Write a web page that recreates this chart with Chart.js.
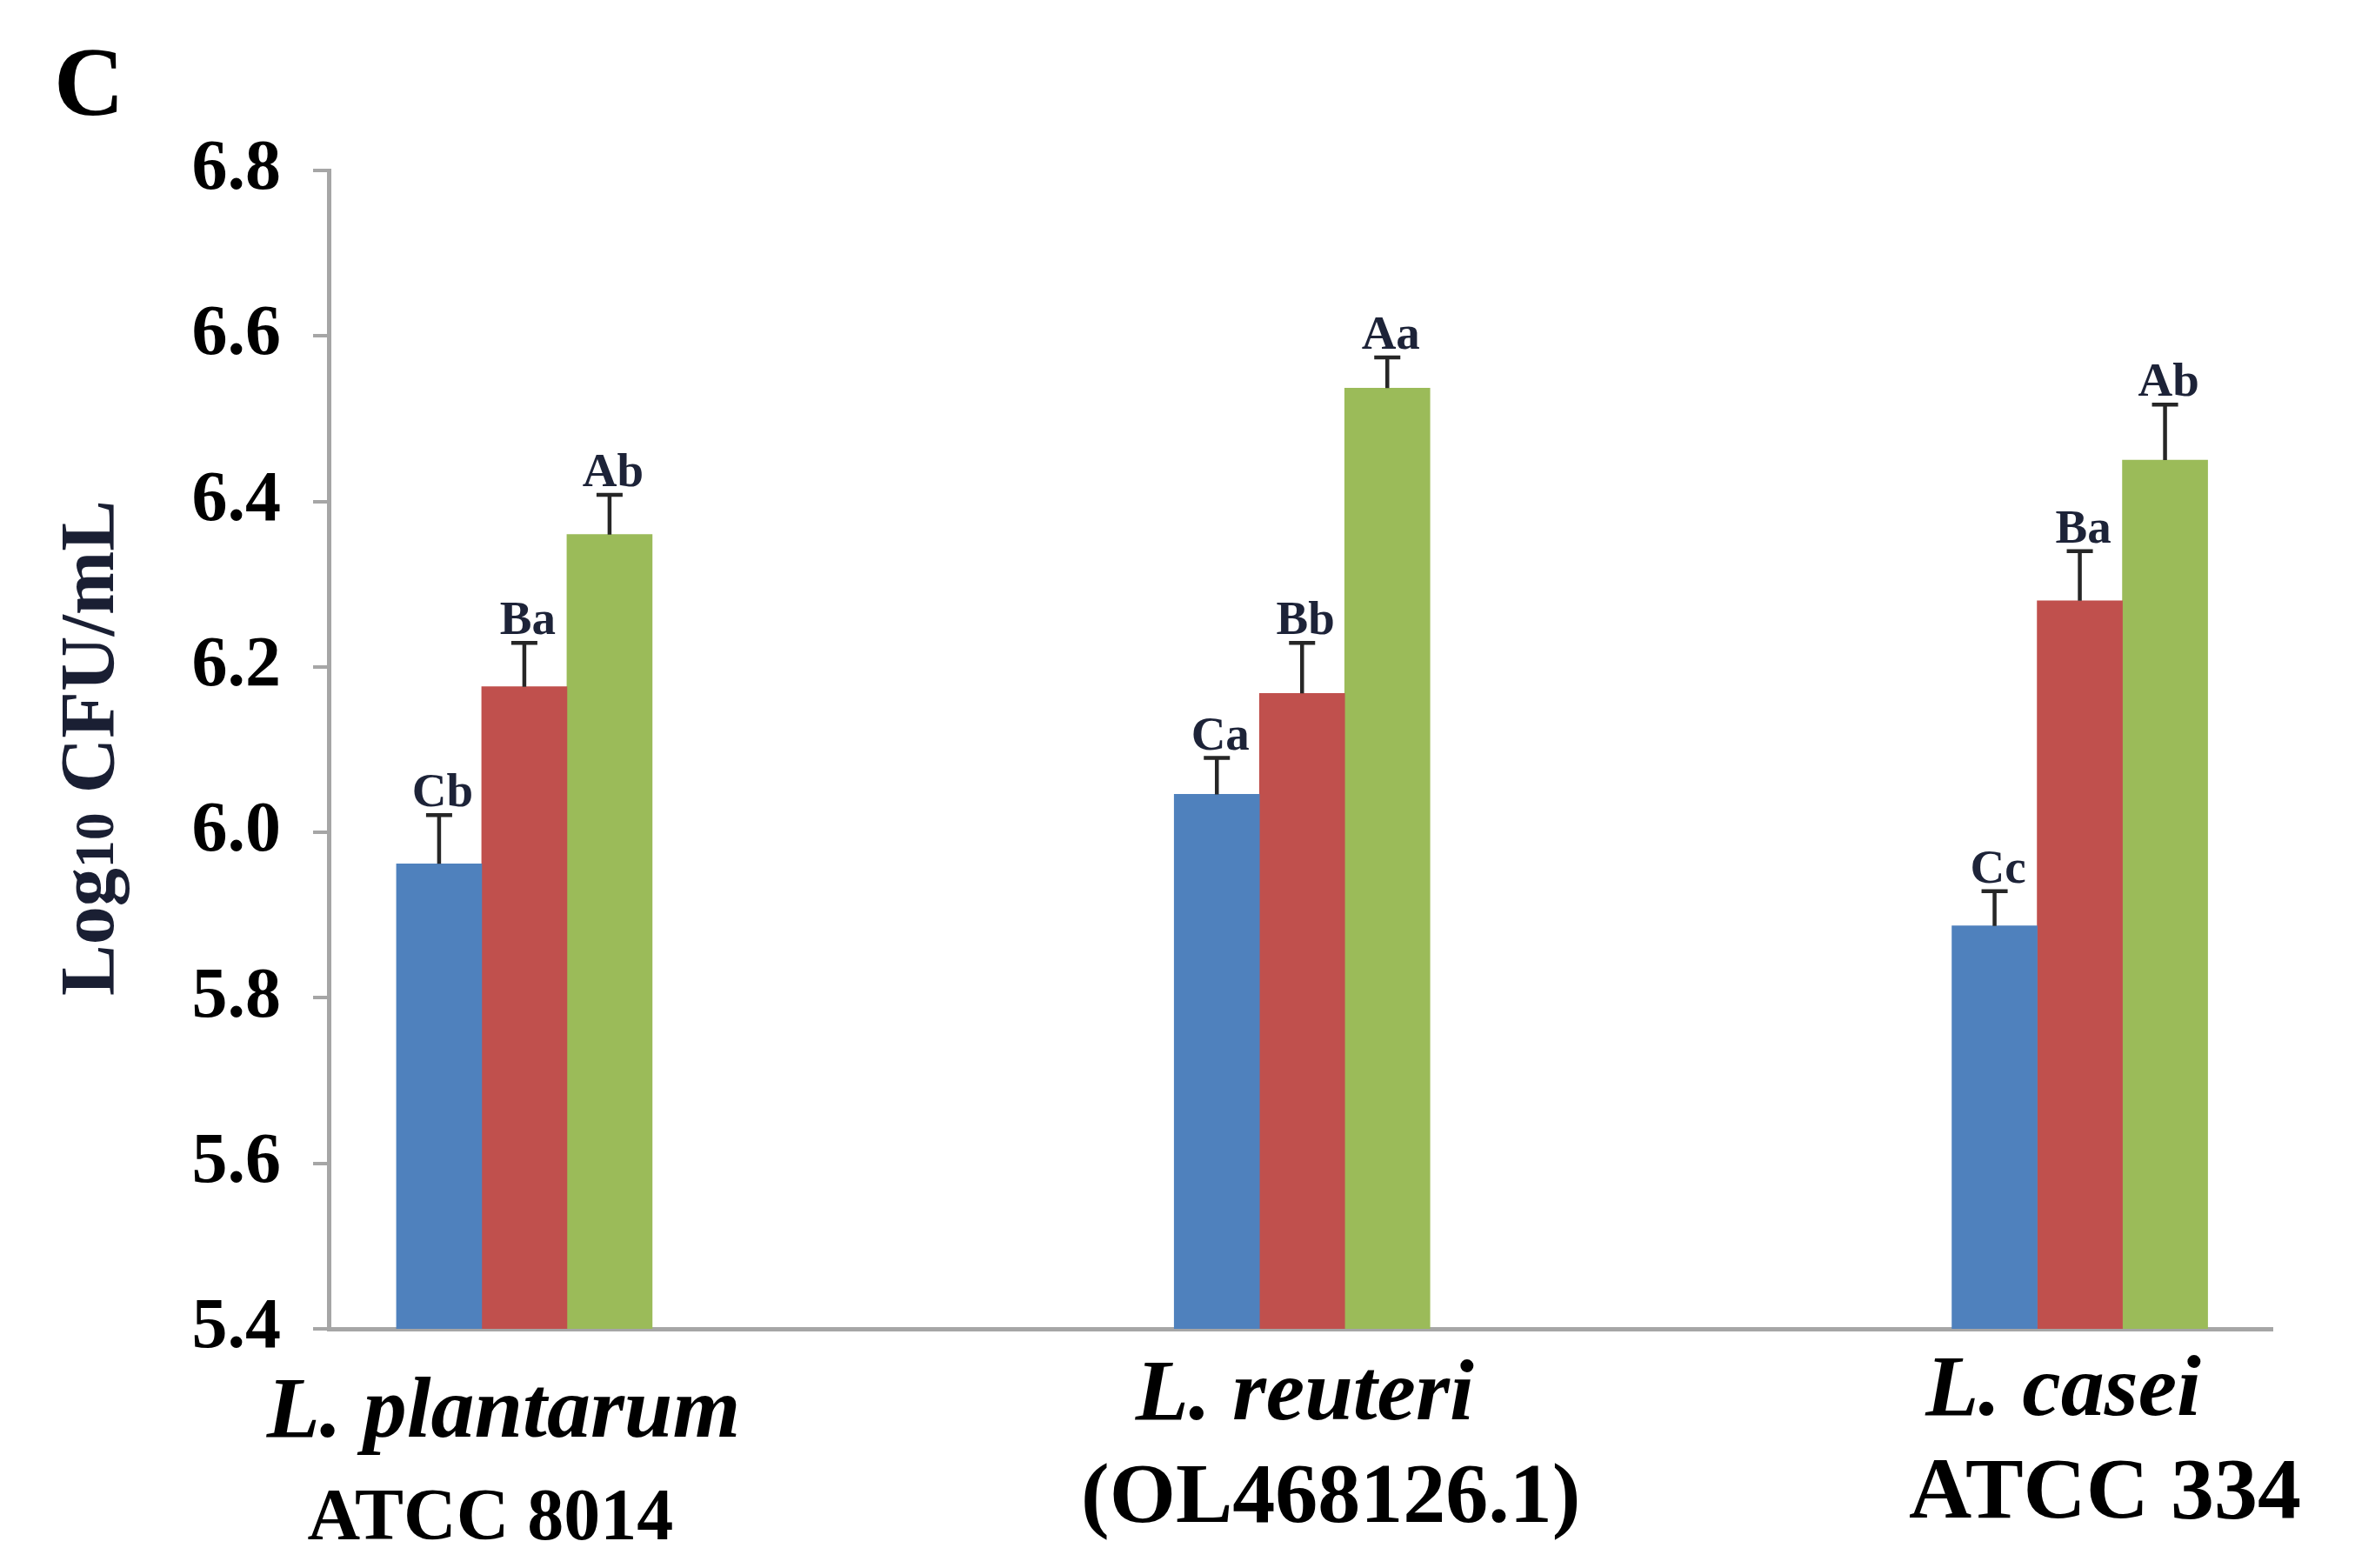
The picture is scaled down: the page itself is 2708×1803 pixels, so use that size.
<!DOCTYPE html>
<html>
<head>
<meta charset="utf-8">
<script src="https://cdn.jsdelivr.net/npm/chart.js@4.4.1/dist/chart.umd.min.js"></script>
<style>
  html, body { margin: 0; padding: 0; background: #ffffff; }
  #chart { display: block; }
</style>
</head>
<body>
<canvas id="chart" width="2708" height="1803"></canvas>
<script>
const speciesNames = ['L. plantarum', 'L. reuteri', 'L. casei'];
const strainNames = ['ATCC 8014', '(OL468126.1)', 'ATCC 334'];
const groupPositions = [0, 1, 2];

const seriesNames = ['Series 1', 'Series 2', 'Series 3'];
const blueValues = [5.962, 6.046, 5.887];
const redValues = [6.176, 6.168, 6.280];
const greenValues = [6.360, 6.537, 6.450];

const blueErrors = [0.059, 0.044, 0.042];
const redErrors = [0.053, 0.061, 0.060];
const greenErrors = [0.048, 0.037, 0.067];

const blueLetters = ['Cb', 'Ca', 'Cc'];
const redLetters = ['Ba', 'Bb', 'Ba'];
const greenLetters = ['Ab', 'Aa', 'Ab'];

const yTicks = [5.4, 5.6, 5.8, 6.0, 6.2, 6.4, 6.6, 6.8];

const SERIF = '"Liberation Serif", "DejaVu Serif", serif';
const AXIS_GREY = '#a6a6a6';

// label placement under each group: [dx, baseline, font size]
const speciesLayout = [[-24, 1652, 100], [3, 1632, 100], [-19, 1627, 100]];
const strainLayout = [[-39, 1770, 84], [33, 1750, 98], [29, 1745, 100]];

function toPoints(values) {
  return values.map((v, i) => ({ x: groupPositions[i], y: v }));
}

const errorBarPlugin = {
  id: 'errorBars',
  afterDatasetsDraw(chart) {
    const { ctx, scales: { y } } = chart;
    ctx.save();
    chart.data.datasets.forEach((ds, di) => {
      const meta = chart.getDatasetMeta(di);
      meta.data.forEach((bar, i) => {
        const top = y.getPixelForValue(ds.data[i].y + ds.errors[i]);
        ctx.strokeStyle = '#262626';
        ctx.lineWidth = 4.5;
        ctx.beginPath();
        ctx.moveTo(bar.x, bar.y);
        ctx.lineTo(bar.x, top);
        ctx.moveTo(bar.x - 15, top);
        ctx.lineTo(bar.x + 15, top);
        ctx.stroke();

        ctx.fillStyle = '#1d2338';
        ctx.font = `bold 55px ${SERIF}`;
        ctx.textAlign = 'center';
        ctx.textBaseline = 'alphabetic';
        ctx.fillText(ds.letters[i], bar.x + 4, top - 10);
      });
    });
    ctx.restore();
  }
};

const labelsPlugin = {
  id: 'extraLabels',
  afterDraw(chart) {
    const { ctx, scales: { x } } = chart;
    ctx.save();
    ctx.fillStyle = '#000000';
    ctx.textAlign = 'center';
    ctx.textBaseline = 'alphabetic';
    groupPositions.forEach((pos, i) => {
      const cx = x.getPixelForValue(pos);
      const [sdx, sy, ss] = speciesLayout[i];
      ctx.font = `italic bold ${ss}px ${SERIF}`;
      ctx.fillText(speciesNames[i], cx + sdx, sy);
      const [tdx, ty, ts] = strainLayout[i];
      ctx.font = `bold ${ts}px ${SERIF}`;
      ctx.fillText(strainNames[i], cx + tdx, ty);
    });

    // panel letter
    ctx.textAlign = 'left';
    ctx.font = `bold 112px ${SERIF}`;
    ctx.fillText('C', 62, 132);

    // y axis title: Log10 CFU/mL with small numerals
    ctx.translate(130, 860);
    ctx.rotate(-Math.PI / 2);
    ctx.fillStyle = '#1a1f33';
    const big = `bold 88px ${SERIF}`;
    const small = `bold 64px ${SERIF}`;
    const parts = [['Log', big], ['10', small], [' CFU/mL', big]];
    let total = 0;
    parts.forEach(([t, f]) => { ctx.font = f; total += ctx.measureText(t).width; });
    let px = -total / 2;
    parts.forEach(([t, f]) => {
      ctx.font = f;
      ctx.fillText(t, px, 0);
      px += ctx.measureText(t).width;
    });
    ctx.restore();
  }
};

new Chart(document.getElementById('chart'), {
  type: 'bar',
  data: {
    datasets: [
      { label: seriesNames[0], data: toPoints(blueValues), errors: blueErrors, letters: blueLetters, backgroundColor: '#4f81bd' },
      { label: seriesNames[1], data: toPoints(redValues), errors: redErrors, letters: redLetters, backgroundColor: '#c0504d' },
      { label: seriesNames[2], data: toPoints(greenValues), errors: greenErrors, letters: greenLetters, backgroundColor: '#9bbb59' }
    ]
  },
  options: {
    responsive: false,
    devicePixelRatio: 1,
    animation: false,
    barThickness: 98,
    layout: { padding: { left: 0, top: 196, right: 95, bottom: 275 } },
    scales: {
      x: {
        type: 'linear',
        offset: false,
        min: -0.2515,
        max: 2.2476,
        ticks: { display: false },
        grid: { display: false },
        border: { display: true, color: AXIS_GREY, width: 5 },
        afterFit(scale) { scale.height = 0; }
      },
      y: {
        min: 5.4,
        max: 6.8,
        afterBuildTicks(scale) { scale.ticks = yTicks.map(v => ({ value: v })); },
        ticks: {
          color: '#000000',
          padding: 37,
          font: { family: SERIF, size: 82, weight: 'bold' },
          callback: v => v.toFixed(1)
        },
        grid: { drawOnChartArea: false, drawTicks: true, tickLength: 18, color: AXIS_GREY, lineWidth: 4 },
        border: { display: true, color: AXIS_GREY, width: 5 },
        afterFit(scale) { scale.width = 378; }
      }
    },
    plugins: {
      legend: { display: false },
      tooltip: { enabled: false }
    }
  },
  plugins: [errorBarPlugin, labelsPlugin]
});
</script>
</body>
</html>
